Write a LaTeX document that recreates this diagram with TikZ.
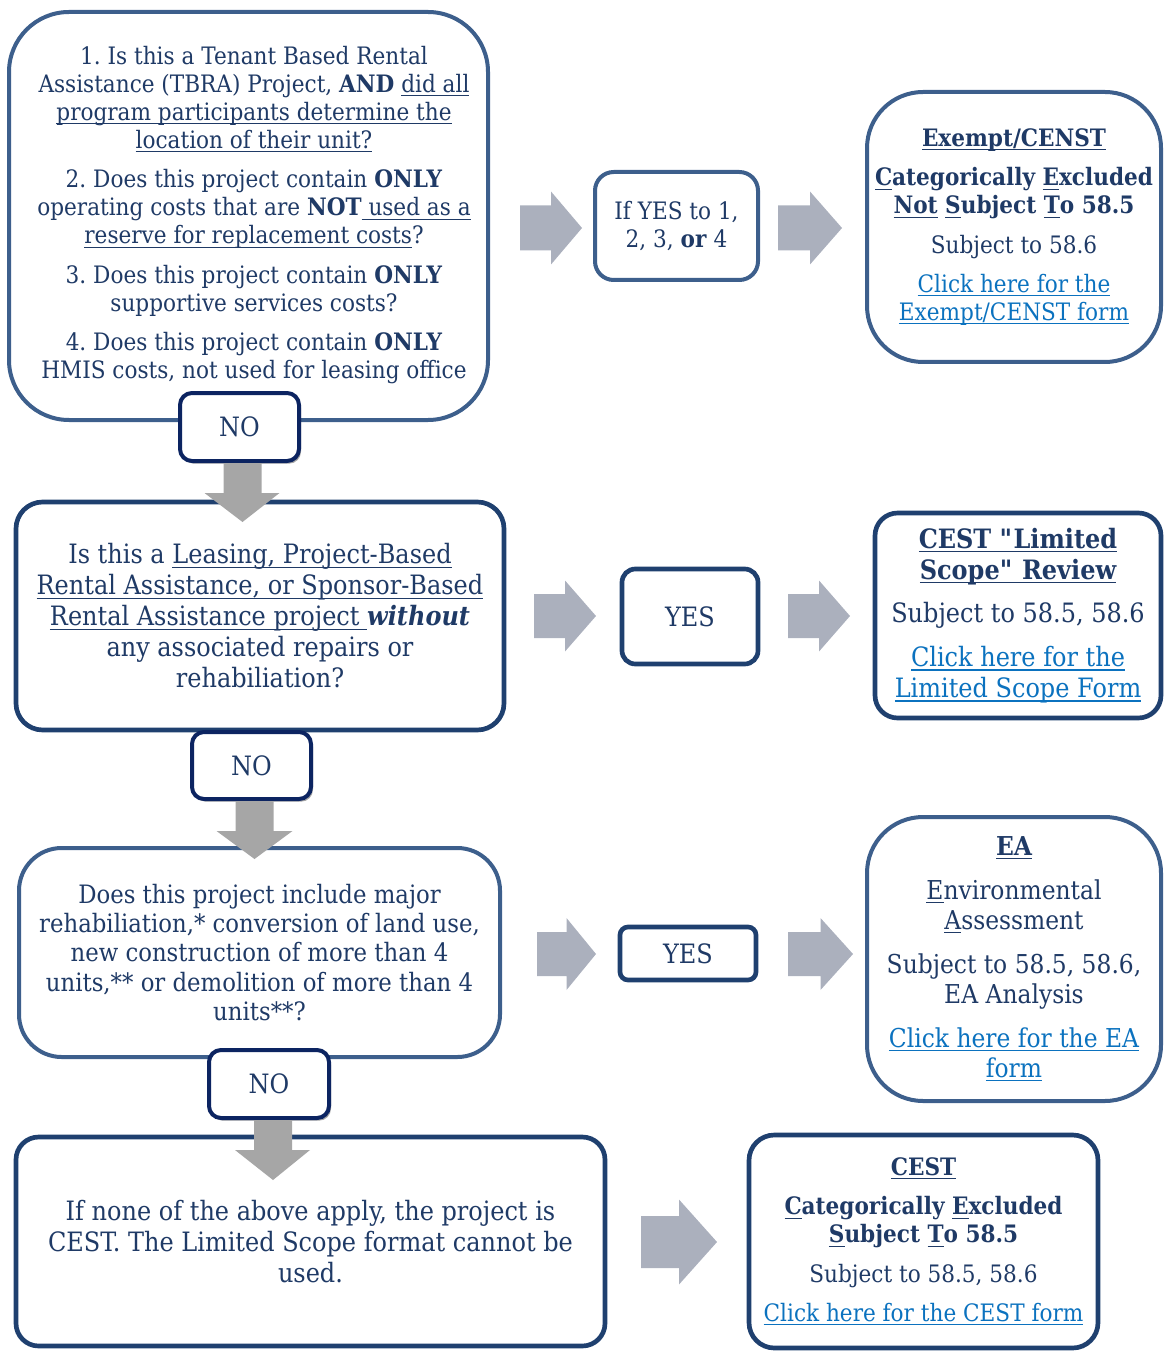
\documentclass[tikz,border=0pt]{standalone}
\usepackage{fontspec}
\setmainfont{DejaVu Serif}[FakeStretch=0.9]
\usetikzlibrary{shadows,calc}
\definecolor{midblue}{HTML}{3D5F8C}
\definecolor{darkblue}{HTML}{1F406F}
\definecolor{navyb}{HTML}{0C2461}
\definecolor{textblue}{HTML}{1F3A66}
\definecolor{linkblue}{HTML}{0B72BF}
\definecolor{downgray}{HTML}{A6A6A6}
\definecolor{rightgray}{HTML}{ABB0BD}
\newsavebox\ulbox
\newcommand\ulx[1]{\sbox\ulbox{#1}\rlap{\rule[-3pt]{\wd\ulbox}{0.9pt}}\usebox\ulbox}
\newcommand\lnk[1]{\textcolor{linkblue}{\ulx{#1}}}
\newcommand\fs[2]{\fontsize{#1}{#2}\selectfont\frenchspacing}
\tikzset{
  sz/.style 2 args={minimum width=#1*0.75pt, minimum height=#2*0.75pt},
  boxbase/.style={draw, fill=white, align=center, text=textblue, inner sep=0pt},
  midbox/.style={boxbase, draw=midblue, line width=3pt},
  darkbox/.style={boxbase, draw=darkblue, line width=3.5pt},
  nobox/.style={boxbase, draw=navyb, line width=3pt, rounded corners=9pt,
     drop shadow={shadow xshift=1.5pt, shadow yshift=-2pt, opacity=0.35, fill=black},
     font=\fs{20}{23}},
  downarrow/.style={fill=downgray},
  rightarrow/.style={fill=rightgray},
}
\newcommand\rarrow[5]{% x1 x2 yc H h
  \fill[rightarrow] (#1,#3-#5/2) -- ({(#1+#2)/2},#3-#5/2) -- ({(#1+#2)/2},#3-#4/2) -- (#2,#3)
    -- ({(#1+#2)/2},#3+#4/2) -- ({(#1+#2)/2},#3+#5/2) -- (#1,#3+#5/2) -- cycle;}
\begin{document}
\begin{tikzpicture}[x=0.75pt,y=-0.75pt]
\useasboundingbox (0,0) rectangle (1165,1351);
\clip (0,0) rectangle (1165,1351);

% left column boxes
\node[midbox, sz={479}{408}, rounded corners=45pt] (q1) at (248.5,216) {};
\node[align=center, text=textblue, inner sep=0pt, font=\fs{18}{21}] (q1t) at (254,215) {%
1. Is this a Tenant Based Rental\\
Assistance (TBRA) Project, \textbf{AND} \ulx{did all}\\
\ulx{program participants determine the}\\
\ulx{location of their unit?}\\[8.5pt]
2. Does this project contain \textbf{ONLY}\\
operating costs that are \textbf{NOT}\ulx{\ used as a}\\
\ulx{reserve for replacement costs}?\\[8.5pt]
3. Does this project contain \textbf{ONLY}\\
supportive services costs?\\[8.5pt]
4. Does this project contain \textbf{ONLY}\\
HMIS costs, not used for leasing office};

\node[darkbox, sz={488}{228}, rounded corners=20pt, font=\fs{20}{23.25}] (q2) at (260,616) {%
Is this a \ulx{Leasing, Project-Based}\\
\ulx{Rental Assistance, or Sponsor-Based}\\
\ulx{Rental Assistance project }\textbf{\textit{without}}\\
any associated repairs or\\
rehabiliation?};

\node[midbox, sz={481}{209}, rounded corners=32pt, font=\fs{19}{22.1}] (q3) at (259.5,952.5) {%
Does this project include major\\
rehabiliation,* conversion of land use,\\
new construction of more than 4\\
units,** or demolition of more than 4\\
units**?};

\node[darkbox, sz={589}{209}, rounded corners=17pt, font=\fs{20}{23.25}] (q4) at (310.5,1241.5) {%
If none of the above apply, the project is\\
CEST. The Limited Scope format cannot be\\
used.};

% NO boxes
\node[nobox, sz={119}{68}] (no1) at (239.5,427) {NO};
\node[nobox, sz={119}{67}] (no2) at (251.5,765.5) {NO};
\node[nobox, sz={120}{68}] (no3) at (269,1084) {NO};

% down arrows
\fill[downarrow] ($(no1.south)+(-16,0)$) -- ++(38,0) -- ++(0,30) -- ++(18,0) -- ($(no1.south)+(3,59)$)
  -- ($(no1.south)+(-35,30)$) -- ($(no1.south)+(-16,30)$) -- cycle;
\fill[downarrow] ($(no2.south)+(-16,0)$) -- ++(38,0) -- ++(0,30) -- ++(19,0) -- ($(no2.south)+(3,58)$)
  -- ($(no2.south)+(-35,30)$) -- ($(no2.south)+(-16,30)$) -- cycle;
\fill[downarrow] ($(no3.south)+(-15,0)$) -- ++(38,0) -- ++(0,30) -- ++(18,0) -- ($(no3.south)+(4,60)$)
  -- ($(no3.south)+(-34,30)$) -- ($(no3.south)+(-15,30)$) -- cycle;

% middle boxes
\node[midbox, sz={163}{108}, rounded corners=14pt, font=\fs{18}{21}] (ifyes) at (676.5,226) {%
If YES to 1,\\ 2, 3, \textbf{or} 4};
\node[darkbox, sz={136}{95}, rounded corners=10pt, font=\fs{20}{23}] (yes1) at (690,616.5) {YES};
\node[darkbox, sz={136}{53}, rounded corners=6pt, font=\fs{20}{23}] (yes2) at (688,953.5) {YES};

% result boxes
\node[midbox, sz={294}{270}, rounded corners=42pt, font=\fs{18}{21}] (exempt) at (1014,227) {%
\textbf{\ulx{Exempt/CENST}}\\[8.5pt]
\textbf{\ulx{C}ategorically \ulx{E}xcluded}\\
\textbf{\ulx{Not} \ulx{S}ubject \ulx{T}o 58.5}\\[8.5pt]
Subject to 58.6\\[8.5pt]
\lnk{Click here for the}\\
\lnk{Exempt/CENST form}};

\node[darkbox, sz={286}{205}, rounded corners=17pt, font=\fs{20}{23.25}] (cestlim) at (1018,615.5) {%
\textbf{\ulx{CEST \textquotedbl Limited}}\\
\textbf{\ulx{Scope\textquotedbl\ Review}}\\[9.5pt]
Subject to 58.5, 58.6\\[9.5pt]
\lnk{Click here for the}\\
\lnk{Limited Scope Form}};

\node[midbox, sz={294}{284}, rounded corners=42pt, font=\fs{19.5}{22.5}] (ea) at (1014,959) {%
\textbf{\ulx{EA}}\\[10.5pt]
\ulx{E}nvironmental\\
\ulx{A}ssessment\\[10.5pt]
Subject to 58.5, 58.6,\\
EA Analysis\\[10.5pt]
\lnk{Click here for the EA}\\
\lnk{form}};

\node[darkbox, sz={349}{213}, rounded corners=19pt, font=\fs{18}{21}] (cest) at (923.5,1241.5) {%
\textbf{\ulx{CEST}}\\[8.5pt]
\textbf{\ulx{C}ategorically \ulx{E}xcluded}\\
\textbf{\ulx{S}ubject \ulx{T}o 58.5}\\[8.5pt]
Subject to 58.5, 58.6\\[8.5pt]
\lnk{Click here for the CEST form}};

% right arrows
\rarrow{520}{582}{228}{73}{45}
\rarrow{778}{842}{228}{73}{45}
\rarrow{534}{596}{616}{71}{44}
\rarrow{788}{850}{616}{71}{44}
\rarrow{537}{596}{954}{72}{44}
\rarrow{788}{853}{954}{72}{44}
\rarrow{641}{717}{1242}{85}{52}
\end{tikzpicture}
\end{document}
